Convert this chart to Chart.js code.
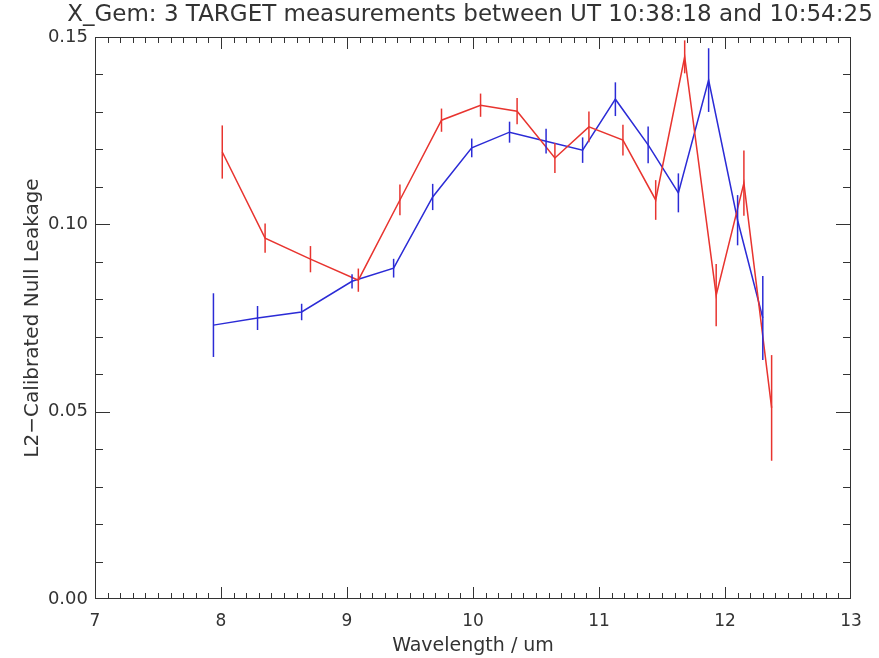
<!DOCTYPE html>
<html>
<head>
<meta charset="utf-8">
<title>X_Gem null leakage</title>
<script src="https://cdn.jsdelivr.net/npm/chart.js@4.4.0/dist/chart.umd.min.js"></script>
<style>
  html, body { margin: 0; padding: 0; background: #fff; }
  canvas { display: block; }
</style>
</head>
<body>
<canvas id="leakChart" width="879" height="658"></canvas>
<script>
// wavelength (um), calibrated null leakage and 1-sigma error, per series
const blueWave = [7.94, 8.29, 8.64, 9.04, 9.37, 9.68, 9.99, 10.29, 10.58, 10.87, 11.13, 11.39, 11.63, 11.87, 12.10, 12.30];
const blueLeak = [0.0731, 0.0750, 0.0766, 0.0848, 0.0883, 0.1073, 0.1204, 0.1246, 0.1222, 0.1198, 0.1334, 0.1212, 0.1084, 0.1385, 0.1011, 0.0750];
const blueErr  = [0.0085, 0.0032, 0.0022, 0.0019, 0.0025, 0.0035, 0.0025, 0.0028, 0.0033, 0.0034, 0.0045, 0.0049, 0.0052, 0.0085, 0.0067, 0.0112];

const redWave = [8.01, 8.35, 8.71, 9.09, 9.42, 9.75, 10.06, 10.35, 10.65, 10.92, 11.19, 11.45, 11.68, 11.93, 12.15, 12.37];
const redLeak = [0.1193, 0.0963, 0.0907, 0.0851, 0.1065, 0.1278, 0.1318, 0.1302, 0.1177, 0.1260, 0.1225, 0.1065, 0.1447, 0.0811, 0.1110, 0.0510];
const redErr  = [0.0071, 0.0039, 0.0035, 0.0031, 0.0041, 0.0031, 0.0031, 0.0035, 0.0040, 0.0041, 0.0041, 0.0053, 0.0044, 0.0083, 0.0087, 0.0141];

const xTicks = [7, 8, 9, 10, 11, 12, 13];
const yTicks = [0.00, 0.05, 0.10, 0.15];

const TITLE = "X_Gem: 3 TARGET measurements between UT 10:38:18 and 10:54:25";
const FONT = "'DejaVu Sans', sans-serif";
const INK = "#333";

function toPoints(xs, ys) {
  return xs.map((x, i) => ({ x, y: ys[i] }));
}

// vertical error bars through each point
const errorBars = {
  id: "errorBars",
  afterDatasetsDraw(chart) {
    const { ctx, chartArea: a, scales: { x, y } } = chart;
    ctx.save();
    ctx.beginPath();
    ctx.rect(a.left, a.top, a.right - a.left, a.bottom - a.top);
    ctx.clip();
    chart.data.datasets.forEach(ds => {
      ctx.strokeStyle = ds.borderColor;
      ctx.lineWidth = 1.5;
      ds.data.forEach((p, i) => {
        const px = x.getPixelForValue(p.x);
        ctx.beginPath();
        ctx.moveTo(px, y.getPixelForValue(p.y - ds.errors[i]));
        ctx.lineTo(px, y.getPixelForValue(p.y + ds.errors[i]));
        ctx.stroke();
      });
    });
    ctx.restore();
  }
};

// box round the plot with inward major/minor ticks on all four sides,
// plus the title, which runs wider than the plot box
const frame = {
  id: "frame",
  afterDraw(chart) {
    const { ctx, chartArea: a, scales: { x, y } } = chart;
    ctx.save();
    ctx.strokeStyle = INK;
    ctx.lineWidth = 1;
    ctx.strokeRect(a.left + 0.5, a.top + 0.5, a.right - a.left - 1, a.bottom - a.top - 1);
    ctx.beginPath();
    for (let i = 1; i < 60; i++) {
      const px = Math.round(x.getPixelForValue(7 + i / 10)) + 0.5;
      const len = i % 10 === 0 ? 12 : 6;
      ctx.moveTo(px, a.bottom);
      ctx.lineTo(px, a.bottom - len);
      ctx.moveTo(px, a.top);
      ctx.lineTo(px, a.top + len);
    }
    for (let i = 1; i < 15; i++) {
      const py = Math.round(y.getPixelForValue(i / 100)) + 0.5;
      const len = i % 5 === 0 ? 15 : 8;
      ctx.moveTo(a.left, py);
      ctx.lineTo(a.left + len, py);
      ctx.moveTo(a.right, py);
      ctx.lineTo(a.right - len, py);
    }
    ctx.stroke();

    ctx.fillStyle = INK;
    ctx.font = "23px " + FONT;
    ctx.textAlign = "center";
    ctx.textBaseline = "middle";
    ctx.fillText(TITLE, (a.left + a.right) / 2 - 3, 15);
    ctx.restore();
  }
};

new Chart(document.getElementById("leakChart"), {
  type: "line",
  data: {
    datasets: [
      {
        label: "red",
        data: toPoints(redWave, redLeak),
        errors: redErr,
        borderColor: "#e8342f",
        borderWidth: 1.5,
        pointRadius: 0,
        tension: 0
      },
      {
        label: "blue",
        data: toPoints(blueWave, blueLeak),
        errors: blueErr,
        borderColor: "#2b2bd6",
        borderWidth: 1.5,
        pointRadius: 0,
        tension: 0
      }
    ]
  },
  options: {
    responsive: false,
    animation: false,
    devicePixelRatio: 1,
    layout: { padding: { top: 37, right: 28 } },
    plugins: {
      legend: { display: false },
      tooltip: { enabled: false },
      title: { display: false }
    },
    scales: {
      x: {
        type: "linear",
        min: 7,
        max: 13,
        afterBuildTicks: s => { s.ticks = xTicks.map(v => ({ value: v })); },
        afterFit: s => { s.height = 59; },
        grid: { display: false, drawTicks: false },
        border: { display: false },
        ticks: {
          color: INK,
          padding: 12,
          maxRotation: 0,
          font: { family: FONT, size: 17 },
          callback: v => String(v)
        },
        title: {
          display: true,
          text: "Wavelength / um",
          color: INK,
          font: { family: FONT, size: 19 },
          padding: { top: 0, bottom: 1 }
        }
      },
      y: {
        type: "linear",
        min: 0,
        max: 0.15,
        afterBuildTicks: s => { s.ticks = yTicks.map(v => ({ value: v })); },
        afterFit: s => { s.width = 95; },
        grid: { display: false, drawTicks: false },
        border: { display: false },
        ticks: {
          color: INK,
          padding: 7,
          font: { family: FONT, size: 18 },
          callback: v => v.toFixed(2)
        },
        title: {
          display: true,
          text: "L2−Calibrated Null Leakage",
          color: INK,
          font: { family: FONT, size: 20 },
          padding: { top: 21, bottom: 0 }
        }
      }
    }
  },
  plugins: [errorBars, frame]
});
</script>
</body>
</html>
